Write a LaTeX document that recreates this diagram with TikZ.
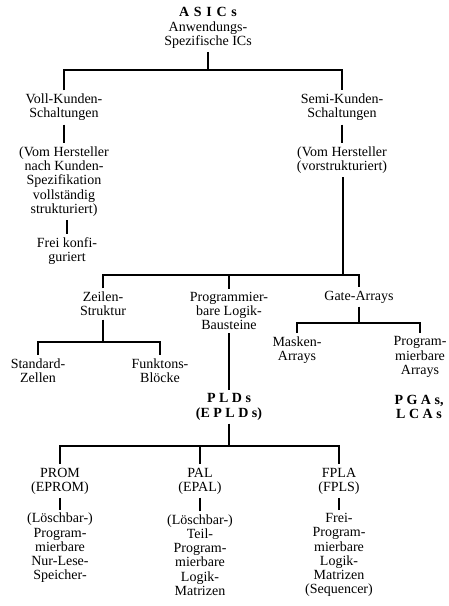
\documentclass[tikz,border=0pt]{standalone}
\usepackage{fontspec}
\setmainfont{Liberation Serif}
\usepackage{tikz}

\begin{document}
\begin{tikzpicture}[x=1pt,y=-1pt,line width=1.1pt,
		every node/.style={font=\fontsize{14}{14.2}\selectfont,align=center,inner sep=3pt}]
			\useasboundingbox (0,0) rectangle (449,606);
			% Verzweigungen
			\coordinate (bA) at (208,70);
			\coordinate (bB) at (343,275);
			\coordinate (bC) at (103,342);
			\coordinate (bD) at (359,323);
			\coordinate (bE) at (229,446);
			% Knoten
			\node (asics) at (208,28) {\textbf{A\,\,S\,\,I\,\,C\,\,s}\\Anwendungs-\\Spezifische ICs};
			\node (voll) at (64,107.5) {Voll-Kunden-\\Schaltungen};
			\node (semi) at (342,107.5) {Semi-Kunden-\\Schaltungen};
			\node (vollsub) at (64,181.5) {(Vom Hersteller\\nach Kunden-\\Spezifikation\\vollständig\\strukturiert)};
			\node (frei) at (67,251) {Frei konfi-\\guriert};
			\node (semisub) at (342,160) {(Vom Hersteller\\(vorstrukturiert)};
			\node (zeilen) at (103,304) {Zeilen-\\Struktur};
			\node (plbau) at (229,311) {Programmier-\\bare Logik-\\Bausteine};
			\node (gate) at (359,297) {Gate-Arrays};
			\node (standard) at (38,370.5) {Standard-\\Zellen};
			\node (funktons) at (160,370.5) {Funktons-\\Blöcke};
			\node (masken) at (297,350) {Masken-\\Arrays};
			\node (progarr) at (420,357) {Program-\\mierbare\\Arrays};
			\node (pgas) at (419,407) {\textbf{P G A s,}\\\textbf{L C A s}};
			\node (plds) at (229,407) {\textbf{P L D s}\\\textbf{(E P L D s)}};
			\node (prom) at (60,481) {PROM\\(EPROM)};
			\node (pal) at (200,481) {PAL\\(EPAL)};
			\node (fpla) at (339,481) {FPLA\\(FPLS)};
			\node (promsub) at (60,548) {(Löschbar-)\\Program-\\mierbare\\Nur-Lese-\\Speicher-};
			\node (palsub) at (200,555) {(Löschbar-)\\Teil-\\Program-\\mierbare\\Logik-\\Matrizen};
			\node (fplasub) at (339,555) {Frei-\\Program-\\mierbare\\Logik-\\Matrizen\\(Sequencer)};
			% Verbindungen
			\draw (asics.south) -- (bA);
			\draw (voll.north) |- (bA) -| (semi.north);
			\draw (voll.south) -- (vollsub.north);
			\draw (frei.north) -- (frei.north |- vollsub.south);
			\draw (semi.south) -- (semisub.north);
			\draw (semisub.south -| bB) -- (bB);
			\draw (zeilen.north) |- (bB) -| (gate.north);
			\draw (plbau.north) -- (plbau.north |- bB);
			\draw (zeilen.south) -- (bC);
			\draw (standard.north) |- (bC) -| (funktons.north);
			\draw (gate.south) -- (bD);
			\draw (masken.north) |- (bD) -| (progarr.north);
			\draw (plbau.south) -- (plds.north);
			\draw (plds.south) -- (bE);
			\draw (prom.north) |- (bE) -| (fpla.north);
			\draw (pal.north) -- (pal.north |- bE);
			\foreach \Oben/\Unten in {prom/promsub,pal/palsub,fpla/fplasub}
				\draw (\Oben.south) -- (\Unten.north);
		\end{tikzpicture}
\end{document}
